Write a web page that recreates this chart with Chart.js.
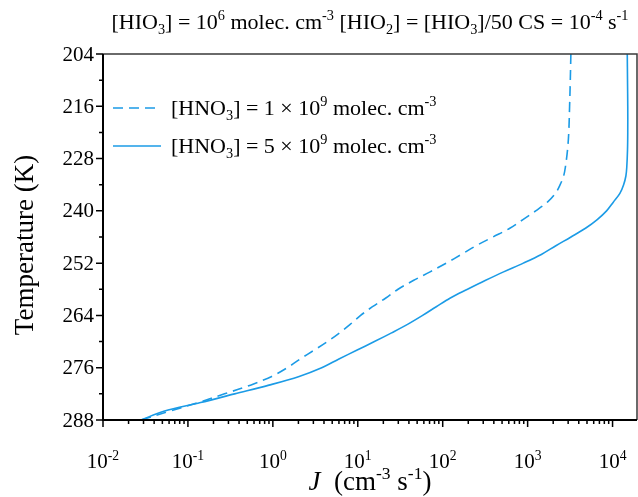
<!DOCTYPE html>
<html>
<head>
<meta charset="utf-8">
<script src="https://cdn.jsdelivr.net/npm/chart.js@4.4.0/dist/chart.umd.min.js"></script>
<style>
  html, body { margin: 0; padding: 0; background: #fff; }
  canvas { display: block; }
</style>
</head>
<body>
<canvas id="nucChart" width="638" height="497"></canvas>
<script>
// Temperature grid (K) and nucleation rates J (cm^-3 s^-1) for both HNO3 levels
const temps = [204, 210, 216, 222, 226, 230, 232, 234, 236, 238, 240, 242, 244, 246, 248, 250, 252, 254,
               256, 258, 260, 262, 264, 266, 268, 270, 272, 274, 276, 278, 280, 282, 284, 286, 288];
const jLowHNO3 = [3230, 3180, 3120, 3050, 2950, 2780, 2655, 2415, 2120, 1710, 1245, 880, 617, 390, 247, 166, 110, 71,
                  45, 29.8, 21.4, 14.9, 10.8, 8.2, 6.1, 4.4, 3.05, 2.1, 1.48, 0.97, 0.545, 0.27, 0.132, 0.06, 0.028];
const jHighHNO3 = [14900, 15000, 15100, 15100, 15000, 14700, 14350, 13500, 12200, 10200, 8500, 6600, 4800, 3240, 2150, 1450, 890, 521,
                   316, 196, 123, 84, 58, 39, 25, 15.7, 9.7, 6.0, 3.76, 2.04, 0.9, 0.355, 0.141, 0.052, 0.028];

const seriesLabels = [
    '[HNO_{3}] = 1 × 10^{9} molec. cm^{-3}',
    '[HNO_{3}] = 5 × 10^{9} molec. cm^{-3}'
];
const titleText = '[HIO_{3}] = 10^{6} molec. cm^{-3} [HIO_{2}] = [HIO_{3}]/50 CS = 10^{-4} s^{-1}';
const xTitle = '*J*  (cm^{-3} s^{-1})';
const yTitle = 'Temperature (K)';

const xTickExponents = [-2, -1, 0, 1, 2, 3, 4];
const yTickLabels = [204, 216, 228, 240, 252, 264, 276, 288];
const yMinorTicks = [210, 222, 234, 246, 258, 270, 282];

const LINE_COLOR = '#1b9be6';
const SERIF = '"Liberation Serif", "Times New Roman", serif';

// tiny markup: ^{sup}, _{sub}, *italic*
function parseRich(str) {
    const parts = [];
    const re = /\^\{([^}]*)\}|_\{([^}]*)\}|\*([^*]*)\*|([^^_*]+)/g;
    let m;
    while ((m = re.exec(str))) {
        if (m[1] !== undefined) parts.push({ text: m[1], mode: 'sup' });
        else if (m[2] !== undefined) parts.push({ text: m[2], mode: 'sub' });
        else if (m[3] !== undefined) parts.push({ text: m[3], mode: 'italic' });
        else parts.push({ text: m[4], mode: 'normal' });
    }
    return parts;
}

function fontFor(mode, size) {
    const s = (mode === 'sup' || mode === 'sub') ? size * 0.65 : size;
    return (mode === 'italic' ? 'italic ' : '') + s + 'px ' + SERIF;
}

function drawRich(ctx, str, x, y, size, align) {
    const parts = parseRich(str);
    let width = 0;
    parts.forEach(p => {
        ctx.font = fontFor(p.mode, size);
        p.w = ctx.measureText(p.text).width;
        width += p.w;
    });
    let cx = align === 'center' ? x - width / 2 : align === 'right' ? x - width : x;
    ctx.textAlign = 'left';
    ctx.textBaseline = 'alphabetic';
    parts.forEach(p => {
        ctx.font = fontFor(p.mode, size);
        const dy = p.mode === 'sup' ? -size * 0.4 : p.mode === 'sub' ? size * 0.22 : 0;
        ctx.fillText(p.text, cx, y + dy);
        cx += p.w;
    });
    return width;
}

// Frame, ticks, labels and legend are drawn by hand
const axesPlugin = {
    id: 'originAxes',
    afterDraw(chart) {
        const { ctx, chartArea: a, scales: { x, y } } = chart;
        ctx.save();
        ctx.fillStyle = '#000';

        // top and right border
        ctx.lineWidth = 1.5;
        ctx.strokeStyle = '#3a3a3a';
        ctx.beginPath();
        ctx.moveTo(a.left, a.top);
        ctx.lineTo(a.right, a.top);
        ctx.lineTo(a.right, a.bottom);
        ctx.stroke();

        // left and bottom axes
        ctx.lineWidth = 2;
        ctx.strokeStyle = '#000';
        ctx.beginPath();
        ctx.moveTo(a.left, a.top);
        ctx.lineTo(a.left, a.bottom);
        ctx.lineTo(a.right, a.bottom);
        ctx.stroke();

        // y ticks
        ctx.lineWidth = 1.5;
        ctx.beginPath();
        yTickLabels.forEach(t => {
            const py = y.getPixelForValue(t);
            ctx.moveTo(a.left - 7, py);
            ctx.lineTo(a.left, py);
        });
        yMinorTicks.forEach(t => {
            const py = y.getPixelForValue(t);
            ctx.moveTo(a.left - 4, py);
            ctx.lineTo(a.left, py);
        });
        // x ticks: decades plus 2..9 minors
        xTickExponents.forEach(e => {
            const px = x.getPixelForValue(Math.pow(10, e));
            ctx.moveTo(px, a.bottom);
            ctx.lineTo(px, a.bottom + 7);
            for (let k = 2; k <= 9; k++) {
                const v = k * Math.pow(10, e);
                if (v > x.max) break;
                const mx = x.getPixelForValue(v);
                ctx.moveTo(mx, a.bottom);
                ctx.lineTo(mx, a.bottom + 4);
            }
        });
        ctx.stroke();

        // y tick labels
        ctx.font = '21px ' + SERIF;
        ctx.textAlign = 'right';
        ctx.textBaseline = 'middle';
        yTickLabels.forEach(t => {
            ctx.fillText(String(t), a.left - 9, y.getPixelForValue(t) + 1);
        });

        // x tick labels
        xTickExponents.forEach(e => {
            drawRich(ctx, '10^{' + e + '}', x.getPixelForValue(Math.pow(10, e)), 468, 21, 'center');
        });

        // axis titles
        const midX = (a.left + a.right) / 2;
        drawRich(ctx, xTitle, midX, 490, 27, 'center');
        ctx.save();
        ctx.translate(26, 245);
        ctx.rotate(-Math.PI / 2);
        ctx.font = '27px ' + SERIF;
        ctx.textAlign = 'center';
        ctx.textBaseline = 'middle';
        ctx.fillText(yTitle, 0, 0);
        ctx.restore();

        // title
        drawRich(ctx, titleText, midX, 29, 22, 'center');

        // legend
        const rows = [
            { y: 108, dash: [10, 6] },
            { y: 146, dash: [] }
        ];
        rows.forEach((r, i) => {
            ctx.strokeStyle = LINE_COLOR;
            ctx.lineWidth = 1.6;
            ctx.setLineDash(r.dash);
            ctx.beginPath();
            ctx.moveTo(113, r.y);
            ctx.lineTo(161, r.y);
            ctx.stroke();
            ctx.setLineDash([]);
            ctx.fillStyle = '#000';
            drawRich(ctx, seriesLabels[i], 171, r.y + 7, 22, 'left');
        });
        ctx.restore();
    }
};

const toPoints = vals => vals.map((v, i) => ({ x: v, y: temps[i] }));

new Chart(document.getElementById('nucChart'), {
    type: 'line',
    data: {
        datasets: [
            {
                label: seriesLabels[0],
                data: toPoints(jLowHNO3),
                borderColor: LINE_COLOR,
                borderWidth: 1.6,
                borderDash: [10, 6],
                pointRadius: 0,
                tension: 0.35,
                fill: false
            },
            {
                label: seriesLabels[1],
                data: toPoints(jHighHNO3),
                borderColor: LINE_COLOR,
                borderWidth: 1.6,
                pointRadius: 0,
                tension: 0.35,
                fill: false
            }
        ]
    },
    options: {
        responsive: false,
        animation: false,
        devicePixelRatio: 1,
        layout: { padding: { left: 103, right: 1, top: 54, bottom: 77 } },
        plugins: { legend: { display: false }, title: { display: false }, tooltip: { enabled: false } },
        scales: {
            x: { type: 'logarithmic', min: 0.01, max: 19400, display: false },
            y: { type: 'linear', min: 204, max: 288, reverse: true, display: false }
        }
    },
    plugins: [axesPlugin]
});
</script>
</body>
</html>
